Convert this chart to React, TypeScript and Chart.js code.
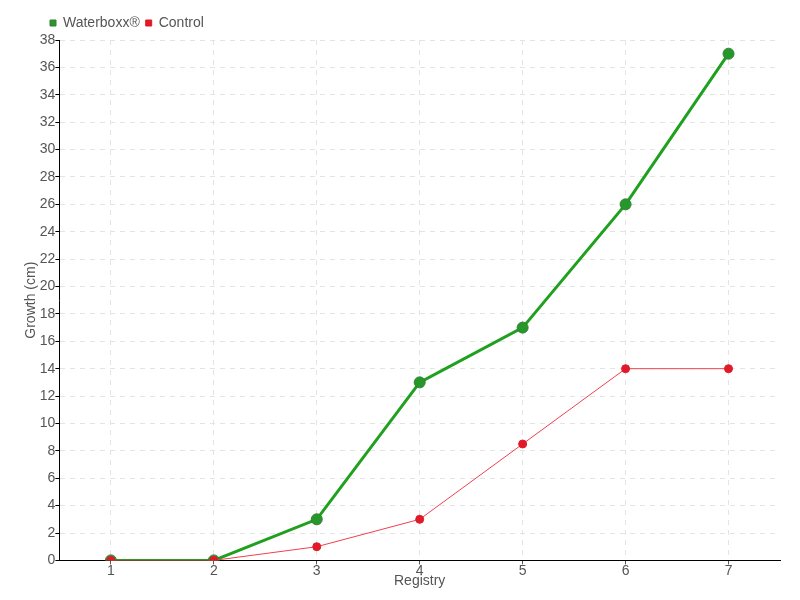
import React, { useEffect, useRef } from "react";
import { Chart, registerables } from "chart.js";

Chart.register(...registerables);

const categories = ["1", "2", "3", "4", "5", "6", "7"];
const waterboxx = [0, 0, 3, 13, 17, 26, 37];
const control = [0, 0, 1, 3, 8.5, 14, 14];
const seriesNames = ["Waterboxx®", "Control"];

const FONT = "'Liberation Sans', Arial, sans-serif";

const legendShift = {
  id: "legendShift",
  afterLayout(chart: any) {
    const lg = chart.legend;
    if (lg) {
      lg.left += 21;
      lg.right += 21;
    }
  },
};

export default function App() {
  const ref = useRef<HTMLCanvasElement>(null);
  useEffect(() => {
    if (!ref.current) return;
    const chart = new Chart(ref.current, {
      type: "line",
      data: {
        labels: categories,
        datasets: [
          {
            label: seriesNames[0],
            data: waterboxx,
            order: 2,
            borderColor: "#1fa01f",
            backgroundColor: "#1fa01f",
            borderWidth: 3,
            pointRadius: 5.5,
            pointBackgroundColor: "#24992a",
            pointBorderColor: "#3a7a3a",
            pointBorderWidth: 1,
            tension: 0,
          },
          {
            label: seriesNames[1],
            data: control,
            order: 1,
            borderColor: "#f04050",
            backgroundColor: "#f01030",
            borderWidth: 1,
            pointRadius: 4,
            pointBackgroundColor: "#e01a28",
            pointBorderColor: "#e01a28",
            pointBorderWidth: 1,
            tension: 0,
          },
        ],
      },
      plugins: [legendShift],
      options: {
        animation: false,
        responsive: false,
        maintainAspectRatio: false,
        layout: { padding: { left: 23, right: 20, top: 10, bottom: 10 } },
        plugins: {
          legend: {
            position: "top",
            align: "start",
            labels: {
              usePointStyle: true,
              pointStyle: "rect",
              boxWidth: 6,
              boxHeight: 6,
              padding: 6,
              color: "#555",
              font: { family: FONT, size: 14 },
              sort: (a: any, b: any) => a.datasetIndex - b.datasetIndex,
            },
          },
          tooltip: { enabled: false },
        },
        scales: {
          x: {
            type: "category",
            offset: true,
            title: {
              display: true,
              text: "Registry",
              color: "#555",
              font: { family: FONT, size: 14 },
              padding: { top: -4, bottom: 0 },
            },
            grid: {
              offset: false,
              color: "#e4e4e4",
              tickColor: "#555",
              tickLength: 4,
              tickBorderDash: [],
            },
            border: { color: "#000", dash: [5, 5], width: 1 },
            ticks: {
              color: "#555",
              font: { family: FONT, size: 14 },
              padding: -2,
            },
          },
          y: {
            min: 0,
            max: 38,
            title: {
              display: true,
              text: "Growth (cm)",
              color: "#555",
              font: { family: FONT, size: 14 },
              padding: { top: 0, bottom: 0 },
            },
            grid: {
              color: "#e4e4e4",
              tickColor: "#000",
              tickLength: 4,
              tickBorderDash: [],
            },
            border: { color: "#000", dash: [5, 5], width: 1 },
            ticks: {
              stepSize: 2,
              color: "#555",
              font: { family: FONT, size: 14 },
              padding: 0,
            },
          },
        },
      },
    });
    return () => chart.destroy();
  }, []);
  return (
    <div style={{ position: "fixed", left: 0, top: 0, width: 800, height: 600, background: "#fff" }}>
      <canvas ref={ref} width={800} height={600} />
    </div>
  );
}
